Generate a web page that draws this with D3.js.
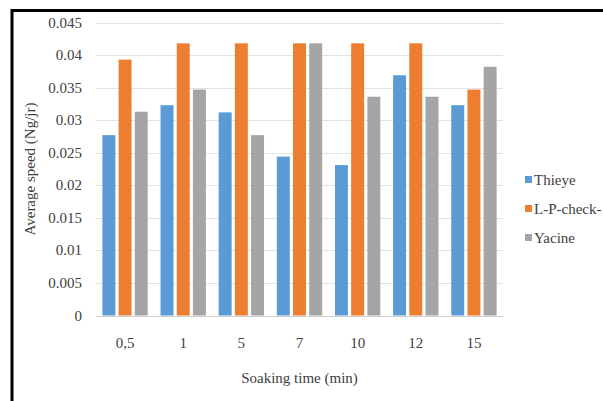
<!DOCTYPE html>
<html><head><meta charset="utf-8">
<script src="https://cdn.jsdelivr.net/npm/d3@7/dist/d3.min.js"></script>
<style>body{margin:0;background:#fff;}svg{display:block;}
text{font-family:"Liberation Serif","Times New Roman",Tinos,"DejaVu Serif",serif;font-size:15px;fill:#404040;}</style>
</head><body>
<script>
const categories = ["0,5","1","5","7","10","12","15"];
const seriesNames = ["Thieye","L-P-check-","Yacine"];
const thieye = [0.0277,0.0323,0.0312,0.0244,0.0231,0.0369,0.0323];
const lpcheck = [0.0393,0.0418,0.0418,0.0418,0.0418,0.0418,0.0347];
const yacine = [0.0313,0.0347,0.0277,0.0418,0.0336,0.0336,0.0382];
const yTicks = [0,0.005,0.01,0.015,0.02,0.025,0.03,0.035,0.04,0.045];
const colors = ["#5B9BD5","#ED7D31","#A5A5A5"];
const series = [thieye, lpcheck, yacine];

const W=603,H=401;
const svg=d3.select("body").append("svg").attr("width",W).attr("height",H);
svg.append("rect").attr("width",W).attr("height",H).attr("fill","#fff");
svg.append("line").attr("x1",12).attr("x2",W+5).attr("y1",10.5).attr("y2",10.5).attr("stroke","#000").attr("stroke-width",3);
svg.append("line").attr("x1",12).attr("x2",12).attr("y1",9).attr("y2",H+5).attr("stroke","#000").attr("stroke-width",3);

const x0=d3.scaleBand().domain(categories).range([96,503]).paddingInner(0.22).paddingOuter(0.11);
const x1=d3.scaleBand().domain(d3.range(3)).range([0,x0.bandwidth()]).paddingInner(0.2);
const y=d3.scaleLinear().domain([0,0.045]).range([315.5,22.5]);

const g=svg.append("g");
yTicks.forEach(t=>{
  g.append("line").attr("x1",96).attr("x2",503).attr("y1",Math.round(y(t))+0.5).attr("y2",Math.round(y(t))+0.5)
   .attr("stroke", t===0?"#d0d0d0":"#e2e2e2").attr("stroke-width",1);
  g.append("text").attr("x",82).attr("y",y(t)+5).attr("text-anchor","end").text(t===0?"0":String(t));
});
categories.forEach((c,i)=>{
  series.forEach((s,j)=>{
    g.append("rect").attr("x",x0(c)+x1(j)).attr("width",x1.bandwidth())
     .attr("y",y(s[i])).attr("height",y(0)-y(s[i])).attr("fill",colors[j]);
  });
  g.append("text").attr("x",x0(c)+x0.bandwidth()/2).attr("y",348).attr("text-anchor","middle").text(c);
});
svg.append("text").attr("x",299.5).attr("y",383).attr("text-anchor","middle").text("Soaking time (min)");
svg.append("text").attr("transform","translate(35,169) rotate(-90)").attr("text-anchor","middle").text("Average speed (Ng/jr)");
seriesNames.forEach((n,j)=>{
  const yy=181+j*29;
  svg.append("rect").attr("x",525).attr("y",yy-5).attr("width",7).attr("height",7).attr("fill",colors[j]);
  svg.append("text").attr("x",534).attr("y",yy+4).text(n);
});
</script>
</body></html>
